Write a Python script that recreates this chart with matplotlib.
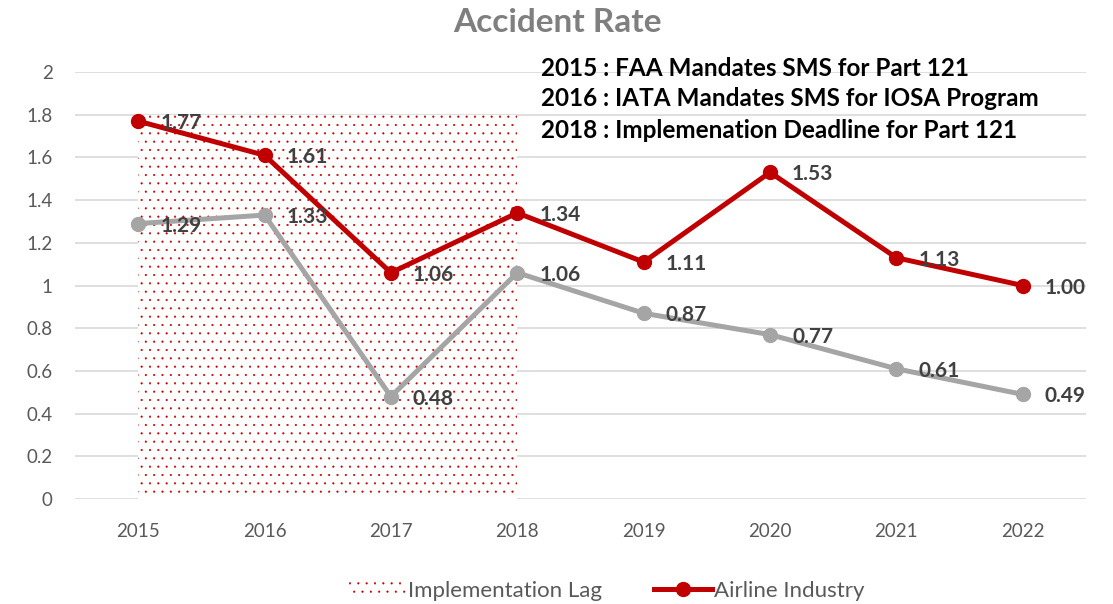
import matplotlib
matplotlib.use("Agg")
import matplotlib.pyplot as plt
from matplotlib.lines import Line2D
import matplotlib.patches as mpatches

plt.rcParams['font.family'] = ['Lato', 'DejaVu Sans']
plt.rcParams['hatch.linewidth'] = 0.3

# data
years = ['2015', '2016', '2017', '2018', '2019', '2020', '2021', '2022']
airline = [1.77, 1.61, 1.06, 1.34, 1.11, 1.53, 1.13, 1.00]
other = [1.29, 1.33, 0.48, 1.06, 0.87, 0.77, 0.61, 0.49]
lag_years = ['2015', '2016', '2017', '2018']
lag_value = 1.8
yticks = [0, 0.2, 0.4, 0.6, 0.8, 1, 1.2, 1.4, 1.6, 1.8, 2]
ytick_labels = ['0', '0.2', '0.4', '0.6', '0.8', '1', '1.2', '1.4', '1.6', '1.8', '2']
notes = ['2015 : FAA Mandates SMS for Part 121',
         '2016 : IATA Mandates SMS for IOSA Program',
         '2018 : Implemenation Deadline for Part 121']

red = '#C00000'
grey = '#A5A5A5'
label_col = '#404040'
tick_col = '#595959'

fig = plt.figure(figsize=(11.13, 6.04), dpi=100)
ax = fig.add_axes([0.0674, 0.1738, 0.9083, 0.7070])

x = list(range(len(years)))
lag_x = [years.index(y) for y in lag_years]

# implementation lag area (dotted)
ax.fill_between(lag_x, 0, [lag_value] * len(lag_x), facecolor='white',
                edgecolor=red, hatch='..', linewidth=0, zorder=2)

ax.plot(x, other, color=grey, lw=3.6, marker='o', ms=10, zorder=3)
ax.plot(x, airline, color=red, lw=3.6, marker='o', ms=10, zorder=4)

for i in x:
    ax.annotate(f'{airline[i]:.2f}', (i, airline[i]), xytext=(22, -2),
                textcoords='offset pixels', ha='left', va='center',
                fontsize=15, fontweight='bold', color=label_col, zorder=5)
    ax.annotate(f'{other[i]:.2f}', (i, other[i]), xytext=(22, -2),
                textcoords='offset pixels', ha='left', va='center',
                fontsize=15, fontweight='bold', color=label_col, zorder=5)

ax.set_xlim(-0.5, len(years) - 0.5)
ax.set_ylim(0, 2)
ax.set_xticks(x)
ax.set_xticklabels(years)
ax.set_yticks(yticks)
ax.set_yticklabels(ytick_labels)
ax.tick_params(axis='both', length=0, labelsize=13.5, colors=tick_col)
ax.tick_params(axis='x', pad=17)
ax.tick_params(axis='y', pad=16)
ax.grid(axis='y', color='#D9D9D9', lw=1.2, zorder=1)
ax.set_axisbelow(True)
for s in ax.spines.values():
    s.set_visible(False)

fig.text(0.501, 0.963, 'Accident Rate', ha='center', va='center',
         fontsize=24, fontweight='bold', color='#7F7F7F')

for k, line in enumerate(notes):
    fig.text(0.486, 1 - (68 + 31 * k) / 604, line, ha='left', va='center',
             fontsize=17.5, fontweight='bold', color='black')

# legend
lag_patch = mpatches.Patch(facecolor='white', edgecolor=red, hatch='..',
                           linewidth=0, label='Implementation Lag')
air_line = Line2D([], [], color=red, lw=3.6, marker='o', ms=10,
                  label='Airline Industry')
fig.legend(handles=[lag_patch, air_line], loc='center',
           bbox_to_anchor=(0.545, 0.0215), ncol=2, frameon=False,
           fontsize=16, labelcolor=tick_col, handlelength=2.6,
           handletextpad=0.1, columnspacing=2.35)

fig.savefig('out.png', dpi=100)
